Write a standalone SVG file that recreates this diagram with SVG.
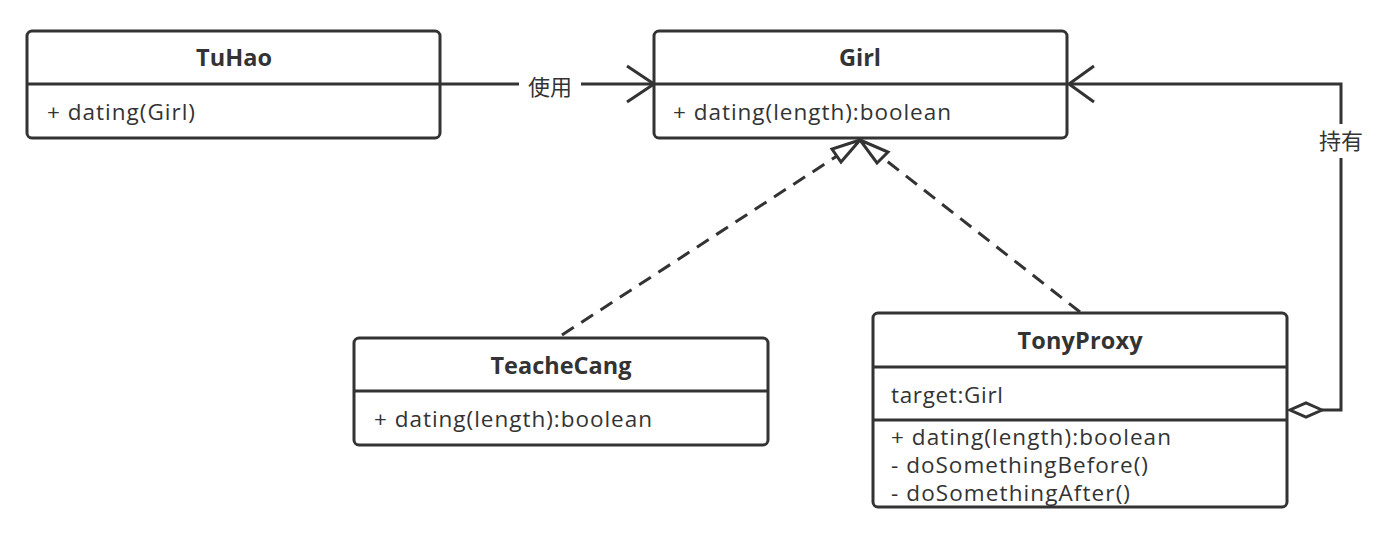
<svg xmlns="http://www.w3.org/2000/svg" width="1386" height="544" viewBox="0 0 1386 544">
<style>
.box{fill:#fff;stroke:#333;stroke-width:3}
.div{stroke:#333;stroke-width:3}
.t{font-family:"Open Sans","Noto Sans","Noto Sans CJK SC",sans-serif;font-size:22.5px;fill:#333}
.b{font-weight:bold;text-anchor:middle;font-size:23.5px}
.ln{fill:none;stroke:#333;stroke-width:3}
.dash{fill:none;stroke:#333;stroke-width:3;stroke-dasharray:14 9}
.lbl{font-family:"Noto Sans CJK SC","Open Sans",sans-serif;font-size:22px;fill:#333;text-anchor:middle}
</style>
<rect width="1386" height="544" fill="#fff"/>
<g id="connectors">
<path class="ln" d="M440 84H519M581 84H654"/>
<path class="ln" d="M627 66L654 84L627 102"/>
<text class="lbl" x="550" y="95">使用</text>
<path class="ln" d="M1069 84H1341V124M1341 158V410H1322"/>
<path class="ln" d="M1094 66L1069 84L1094 102"/>
<path d="M1322 410L1306 403L1290 410L1306 417Z" style="fill:#fff;stroke:#333;stroke-width:3"/>
<text class="lbl" x="1341" y="149">持有</text>
<path class="dash" d="M562 335L837 156"/>
<path class="ln" d="M860 140L832 149L841 162Z"/>
<path class="dash" d="M1080 312L883 158"/>
<path class="ln" d="M860 140L888 152L877 163Z"/>
</g>
<g id="TuHao">
<rect class="box" x="27" y="31" width="413" height="107" rx="5"/>
<line class="div" x1="27" y1="84" x2="440" y2="84"/>
<text class="t b" x="234" y="66" textLength="76">TuHao</text>
<text class="t" x="47" y="120" textLength="148">+ dating(Girl)</text>
</g>
<g id="Girl">
<rect class="box" x="654" y="31" width="413" height="107" rx="5"/>
<line class="div" x1="654" y1="84" x2="1067" y2="84"/>
<text class="t b" x="860" y="66" textLength="42">Girl</text>
<text class="t" x="673" y="120" textLength="278">+ dating(length):boolean</text>
</g>
<g id="TeacheCang">
<rect class="box" x="354" y="338" width="414" height="107" rx="5"/>
<line class="div" x1="354" y1="391" x2="768" y2="391"/>
<text class="t b" x="561" y="374" textLength="141">TeacheCang</text>
<text class="t" x="374" y="427" textLength="278">+ dating(length):boolean</text>
</g>
<g id="TonyProxy">
<rect class="box" x="873" y="313" width="414" height="194" rx="5"/>
<line class="div" x1="873" y1="367" x2="1287" y2="367"/>
<line class="div" x1="873" y1="420" x2="1287" y2="420"/>
<text class="t b" x="1080" y="349" textLength="125">TonyProxy</text>
<text class="t" x="891" y="403" textLength="112">target:Girl</text>
<text class="t" x="891" y="445" textLength="280">+ dating(length):boolean</text>
<text class="t" x="891" y="473" textLength="257">- doSomethingBefore()</text>
<text class="t" x="891" y="501" textLength="239">- doSomethingAfter()</text>
</g>
</svg>
